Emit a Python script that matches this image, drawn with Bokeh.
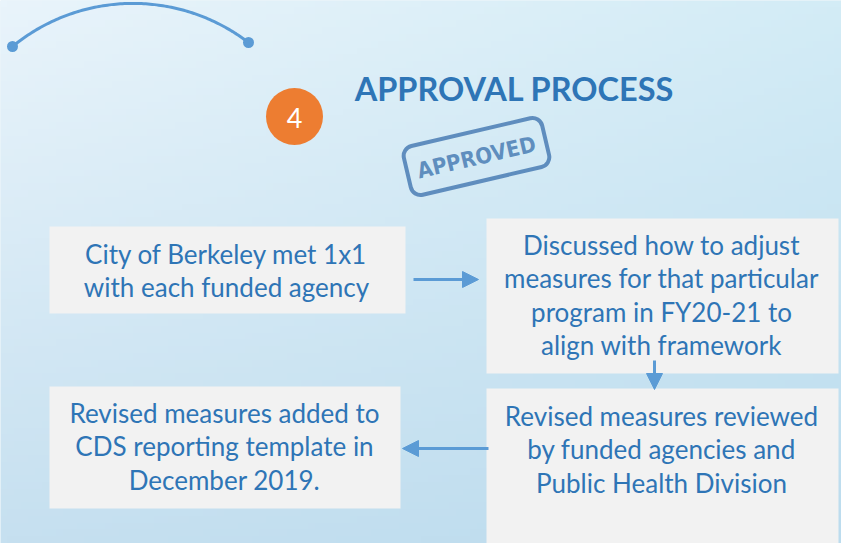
import numpy as np
from bokeh.plotting import figure
from bokeh.models import Arrow, NormalHead, Range1d, ColumnDataSource
from bokeh.core.properties import value
from bokeh.embed import file_html
from bokeh.resources import INLINE

# ---------------- content ----------------
title_text = "APPROVAL PROCESS"
step_number = "4"
stamp_text = "APPROVED"
box1_lines = ["City of Berkeley met 1x1", "with each funded agency"]
box2_lines = ["Discussed how to adjust", "measures for that particular",
              "program in FY20-21 to", "align with framework"]
box3_lines = ["Revised measures reviewed", "by funded agencies and",
              "Public Health Division"]
box4_lines = ["Revised measures added to", "CDS reporting template in",
              "December 2019."]

# ---------------- styling ----------------
PAGE_W, PAGE_H = 841, 543
BLUE = "#2e75b6"
ARROW = "#5b9bd5"
BOX = "#f2f2f2"
ORANGE = "#ed7d31"
STAMP = "#4a7db4"
FONT = "Lato"
SHIFT = 10  # baseline correction


def Y(py):
    return PAGE_H - py


p = figure(width=PAGE_W, height=PAGE_H, x_range=Range1d(0, PAGE_W), y_range=Range1d(0, PAGE_H),
           output_backend="svg", toolbar_location=None, min_border=0)
p.axis.visible = False
p.grid.visible = False
p.outline_line_color = None
p.background_fill_color = "#d8ebf6"
p.border_fill_color = "#d8ebf6"

# background gradient
nx, ny = 120, 80
tl = np.array([233, 244, 251.0]); tr = np.array([211, 236, 246.0])
bl = np.array([198, 224, 240.0]); br = np.array([188, 220, 238.0])
u = np.linspace(0, 1, nx)[None, :, None]
v = np.linspace(0, 1, ny)[:, None, None]  # 0 = bottom row
top = tl * (1 - u) + tr * u
bot = bl * (1 - u) + br * u
rgb = bot * (1 - v) + top * v
img = np.empty((ny, nx), dtype=np.uint32)
view = img.view(dtype=np.uint8).reshape((ny, nx, 4))
view[:, :, :3] = rgb.astype(np.uint8)
view[:, :, 3] = 255
p.image_rgba(image=[img], x=0, y=0, dw=PAGE_W, dh=PAGE_H)

# decorative arc with end dots
pts = np.array([[12, Y(46)], [127, Y(3)], [248, Y(42)]], dtype=float)
(x1, y1), (x2, y2), (x3, y3) = pts
d = 2 * (x1 * (y2 - y3) + x2 * (y3 - y1) + x3 * (y1 - y2))
cx = ((x1**2 + y1**2) * (y2 - y3) + (x2**2 + y2**2) * (y3 - y1) + (x3**2 + y3**2) * (y1 - y2)) / d
cy = ((x1**2 + y1**2) * (x3 - x2) + (x2**2 + y2**2) * (x1 - x3) + (x3**2 + y3**2) * (x2 - x1)) / d
R = np.hypot(x1 - cx, y1 - cy)
a1 = np.arctan2(y1 - cy, x1 - cx)
a3 = np.arctan2(y3 - cy, x3 - cx)
ang = np.linspace(a3, a1, 120)
p.line(cx + R * np.cos(ang), cy + R * np.sin(ang), line_color=ARROW, line_width=3)
p.circle(x=[x1, x3], y=[y1, y3], radius=5.5, fill_color=ARROW, line_color=None)

# step number circle
p.circle(x=[294], y=[Y(116)], radius=28.5, fill_color=ORANGE, line_color=None)
p.text(x=[294], y=[Y(127 - SHIFT)], text=[step_number], text_color="white", text_font=value(FONT),
       text_font_size="27px", text_align="center", text_baseline="alphabetic")

# title
p.text(x=[514], y=[Y(99 - SHIFT - 1)], text=[title_text], text_color=BLUE, text_font=value(FONT),
       text_font_style="bold", text_font_size="32.5px", text_align="center",
       text_baseline="alphabetic")

# stamp
p.rect(x=[476], y=[Y(156)], width=142, height=50, angle=0.23, fill_color=None,
       line_color=STAMP, line_width=4, line_alpha=0.85, border_radius=10)
p.text(x=[476], y=[Y(157)], text=[stamp_text], angle=0.23, text_color=STAMP, text_alpha=0.85,
       text_font=value("DejaVu Sans Condensed"), text_font_style="bold",
       text_font_size="22px", text_align="center", text_baseline="middle")

# boxes
boxes = [(49, 405, 226, 313), (486, 838, 218, 373), (486, 838, 388, 545), (49, 400, 386, 508)]
p.quad(left=[b[0] for b in boxes], right=[b[1] for b in boxes],
       top=[Y(b[2]) for b in boxes], bottom=[Y(b[3]) for b in boxes],
       fill_color=BOX, line_color=None)

# arrows
for xs, ys, xe, ye in [(413, 279, 478, 279), (654, 360, 654, 389), (488, 448, 402, 448)]:
    p.add_layout(Arrow(end=NormalHead(size=16, fill_color=ARROW, line_color=ARROW, line_width=1),
                       x_start=xs, y_start=Y(ys), x_end=xe, y_end=Y(ye),
                       line_color=ARROW, line_width=3))

# box texts
tx, ty, tt = [], [], []
for lines, xc, base0 in [(box1_lines, 226, 263), (box2_lines, 661, 254),
                         (box3_lines, 661, 425), (box4_lines, 224, 422)]:
    for i, line in enumerate(lines):
        tx.append(xc)
        ty.append(Y(base0 - SHIFT + 33.6 * i))
        tt.append(line)
src = ColumnDataSource(dict(x=tx, y=ty, text=tt))
p.text(x="x", y="y", text="text", source=src, text_color=BLUE, text_font=value(FONT),
       text_font_size="26px", text_align="center", text_baseline="alphabetic")

open("out.html", "w").write(file_html(p, INLINE))
